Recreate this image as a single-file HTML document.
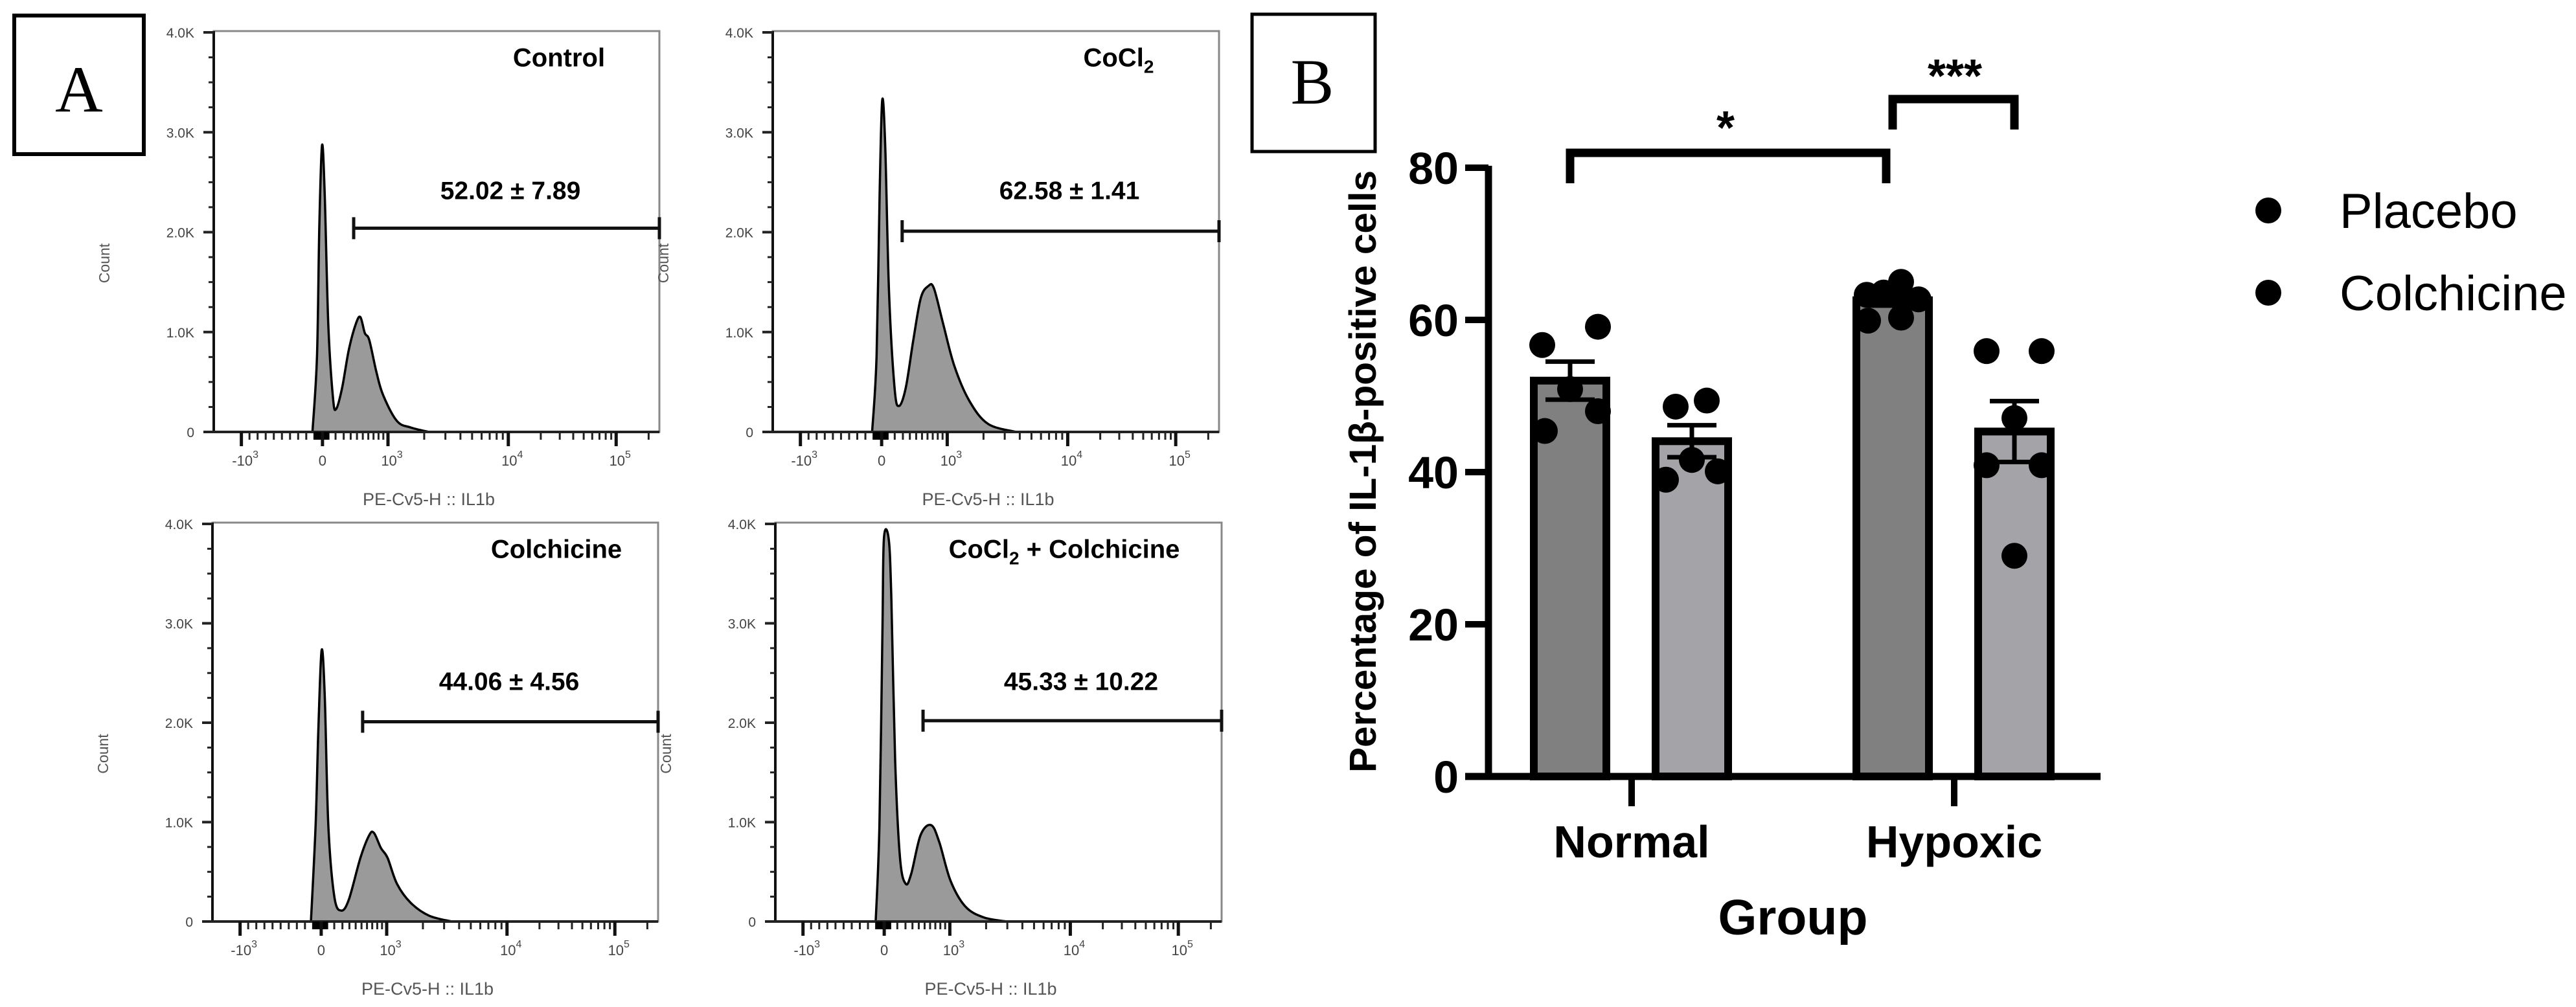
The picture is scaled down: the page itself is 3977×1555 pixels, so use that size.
<!DOCTYPE html>
<html><head><meta charset="utf-8"><style>
html,body{margin:0;padding:0;background:#fff;}
svg{display:block;}
text{font-family:"Liberation Sans",Arial,sans-serif;}
</style></head><body>
<svg id="fig" width="3977" height="1555" viewBox="0 0 3977 1555" xmlns="http://www.w3.org/2000/svg">
<rect x="0" y="0" width="3977" height="1555" fill="#fff"/>
<g>
<rect x="22" y="24" width="200" height="214" fill="none" stroke="#000" stroke-width="6"/>
<text x="122" y="172" text-anchor="middle" style="font-family:'Liberation Serif',serif" font-size="102">A</text>
</g>
<g>
<rect x="1933" y="22" width="190" height="212" fill="none" stroke="#000" stroke-width="5"/>
<text x="2026" y="160" text-anchor="middle" style="font-family:'Liberation Serif',serif" font-size="100">B</text>
</g>
<g id="hists"></g>
<g id="bars"></g>
</svg>
<script>
// ===== Histogram data (x in display units 0-1000, counts in K) =====
const ctrlD = [221.5,231.7,236.9,243,249,257,267.6,274.7,288,303,318.7,329,339,349,365,380,411,441.6,482.6];
const ctrlC = [0,0.76,2.06,2.87,2.38,1.08,0.34,0.23,0.44,0.82,1.08,1.15,0.99,0.92,0.60,0.37,0.11,0.045,0];
const cocD = [222.7,232.7,239.5,245.3,252,260.5,273,283,298,315,331.7,348.5,361,382,407,440.7,482.7,545.6];
const cocC = [0,0.76,2.38,3.32,2.87,1.41,0.44,0.26,0.44,0.92,1.34,1.46,1.44,1.08,0.66,0.31,0.08,0];
const colD = [221,231.5,237.7,245,252,260,273.5,289,306,332,352,362.6,378,393,414,444.5,485.5,536.6];
const colC = [0,0.97,1.94,2.73,2.27,0.97,0.25,0.11,0.22,0.64,0.87,0.89,0.74,0.64,0.38,0.19,0.06,0];
const ccD = [224.9,233.3,240,243.3,254,260,268.5,279.4,292,304.5,325.5,349,367.3,392.6,426,468,518.5];
const ccC = [0,0.97,2.92,3.85,3.85,3.25,1.62,0.64,0.38,0.48,0.87,0.97,0.80,0.41,0.15,0.04,0];
const histTitles = ["Control","CoCl2","Colchicine","CoCl2 + Colchicine"];
const gateLabels = ["52.02 ± 7.89","62.58 ± 1.41","44.06 ± 4.56","45.33 ± 10.22"];
const gateStart = [314,290,337,331];
const gateLevel = [2.04,2.01,2.01,2.02];
const yTickLabels = ["0","1.0K","2.0K","3.0K","4.0K"];
const yTickVals = [0,1,2,3,4];
const xMajorVals = [62,244,391,661,903];
const xMajorExp = ["3","","3","4","5"];
const xMajorBase = ["-10","0","10","10","10"];

// ===== Bar chart data =====
const groups = ["Normal","Hypoxic"];
const seriesNames = ["Placebo","Colchicine"];
const barMeans = [52.02,44.06,62.58,45.33];
const barSems = [2.5,2.1,0.7,4.0];
const ptsNormPlacebo = [56.7,59.1,45.4,48.0,50.9];
const ptsNormColch = [48.6,49.4,39.0,40.1,41.6];
const ptsHypPlacebo = [63.3,63.6,65.0,62.7,59.9,60.3];
const ptsHypColch = [55.9,55.9,47.1,40.9,40.9,29.0];
const barTicks = [0,20,40,60,80];

const NS="http://www.w3.org/2000/svg";
function mk(tag,attrs,parent){const e=document.createElementNS(NS,tag);for(const k in attrs)e.setAttribute(k,attrs[k]);if(parent)parent.appendChild(e);return e;}

function smoothPath(pts){
  let d=`M${pts[0][0]},${pts[0][1]}`;
  for(let i=0;i<pts.length-1;i++){
    const p0=pts[Math.max(0,i-1)],p1=pts[i],p2=pts[i+1],p3=pts[Math.min(pts.length-1,i+2)];
    const c1=[p1[0]+(p2[0]-p0[0])/6,p1[1]+(p2[1]-p0[1])/6];
    const c2=[p2[0]-(p3[0]-p1[0])/6,p2[1]-(p3[1]-p1[1])/6];
    d+=` C${c1[0]},${c1[1]} ${c2[0]},${c2[1]} ${p2[0]},${p2[1]}`;
  }
  return d;
}

const hists=document.getElementById('hists');
const plots=[
  {L:330,R:1018,top4:50,zero:667,D:ctrlD,C:ctrlC,titleX:533},
  {L:1193,R:1882,top4:50,zero:667,D:cocD,C:cocC,titleX:534},
  {L:328,R:1016,top4:809,zero:1423,D:colD,C:colC,titleX:531},
  {L:1197,R:1886,top4:809,zero:1423,D:ccD,C:ccC,titleX:446}
];
plots.forEach((p,i)=>{
  const g=mk('g',{},hists);
  
  
  const W=p.R-p.L;
  const X=d=>p.L+d*W/1000;
  const Y=c=>p.zero-c*(p.zero-p.top4)/4;
  const fr=mk('rect',{x:p.L,y:p.top4-2,width:W,height:p.zero-p.top4+2,fill:'none',stroke:'#888','stroke-width':3},g);
  
  
  const pts=p.D.map((d,k)=>[X(d),Y(p.C[k])]);
  const hp=mk('path',{d:smoothPath(pts)+` L${pts[pts.length-1][0]},${p.zero} L${pts[0][0]},${p.zero} Z`,fill:'#9a9a9a',stroke:'#000','stroke-width':3.5,'stroke-linejoin':'round'},g);
  
  
  mk('line',{x1:p.L,y1:p.top4-2,x2:p.L,y2:p.zero,stroke:'#111','stroke-width':4},g);
  mk('line',{x1:p.L,y1:p.zero,x2:p.R,y2:p.zero,stroke:'#222','stroke-width':4},g);
  for(let q=0;q<=16;q++){
    const v=q/4, major=q%4===0;
    mk('line',{x1:p.L-(major?16:8),y1:Y(v),x2:p.L,y2:Y(v),stroke:'#222','stroke-width':major?4:3},g);
  }
  yTickVals.forEach((v,k)=>{
    const t=mk('text',{x:p.L-30,y:Y(v)+8,'text-anchor':'end','font-size':21,fill:'#444'},g);
    t.textContent=yTickLabels[k];
    
    
  });
  const xm=[];
  for(let k=1;k<10;k++)xm.push(62+(244-62)*(k/10));
  for(let k=1;k<10;k++)xm.push(244+(391-244)*Math.pow(k/10,0.7));
  for(let k=2;k<10;k++)xm.push(391+270*Math.log10(k));
  for(let k=2;k<10;k++)xm.push(661+242*Math.log10(k));
  xm.push(903+242*Math.log10(2));
  xm.forEach(d=>mk('line',{x1:X(d),y1:p.zero,x2:X(d),y2:p.zero+12,stroke:'#222','stroke-width':3},g));
  [228,234,240,250,256].forEach(d=>mk('line',{x1:X(d),y1:p.zero,x2:X(d),y2:p.zero+12,stroke:'#000','stroke-width':5},g));
  xMajorVals.forEach((d,k)=>{
    mk('line',{x1:X(d),y1:p.zero,x2:X(d),y2:p.zero+22,stroke:'#111','stroke-width':5},g);
    const t=mk('text',{x:X(d)+(xMajorExp[k]?6:0),y:p.zero+52,'text-anchor':'middle','font-size':22,fill:'#444'},g);
    
    
    t.appendChild(document.createTextNode(xMajorBase[k]));
    if(xMajorExp[k]){const s=mk('tspan',{dy:-12,'font-size':16},t);s.textContent=xMajorExp[k];}
  });
  const xl=mk('text',{x:(p.L+p.R)/2-12,y:p.zero+113,'text-anchor':'middle','font-size':27,fill:'#555'},g);
  xl.textContent='PE-Cv5-H :: IL1b';
  
  
  const cy=(p.top4+p.zero)/2+48;
  const yl=mk('text',{x:p.L-161,y:cy,'text-anchor':'middle','font-size':23,fill:'#555',transform:`rotate(-90 ${p.L-161} ${cy})`},g);
  yl.textContent='Count';
  
  
  const tt=mk('text',{x:p.L+p.titleX,y:Y(3.75)+14,'text-anchor':'middle','font-size':40,'font-weight':'bold',fill:'#000'},g);
  
  
  const parts=histTitles[i].split('CoCl2');
  parts.forEach((s,k)=>{
    if(k>0){tt.appendChild(document.createTextNode('CoCl'));const sb=mk('tspan',{dy:10,'font-size':28},tt);sb.textContent='2';const rs=mk('tspan',{dy:-10},tt);rs.textContent=s;}
    else if(s) tt.appendChild(document.createTextNode(s));
  });
  const gy=Y(gateLevel[i]);
  const gl=mk('path',{d:`M${X(gateStart[i])},${gy} L${p.R},${gy} M${X(gateStart[i])},${gy-17} L${X(gateStart[i])},${gy+17} M${p.R},${gy-17} L${p.R},${gy+17}`,stroke:'#111','stroke-width':5,fill:'none'},g);
  
  
  const glab=mk('text',{x:p.L+458+(i===3?14:0),y:Y(2.42)+14,'text-anchor':'middle','font-size':39,'font-weight':'bold',fill:'#000'},g);
  glab.textContent=gateLabels[i];
  
  
});

// ===== Bar chart =====
const bars=document.getElementById('bars');
const Y0=1199, PX=11.75;
const BY=v=>Y0-v*PX;
const groupX=[2519,3017];
const BX=(gi,si)=>groupX[gi]+(si===0?-95:93);
const axisX=2298;
const fills=['#808080','#a3a3a8'];
barMeans.forEach((m,k)=>{
  const gi=Math.floor(k/2), si=k%2, cx=BX(gi,si);
  const r=mk('rect',{x:cx-56,y:BY(m),width:112,height:Y0-BY(m),fill:fills[si],stroke:'#000','stroke-width':12},bars);
  
  
});
barMeans.forEach((m,k)=>{
  const gi=Math.floor(k/2), si=k%2, cx=BX(gi,si), s=barSems[k];
  const e=mk('path',{d:`M${cx},${BY(m-s)} L${cx},${BY(m+s)} M${cx-38},${BY(m+s)} L${cx+38},${BY(m+s)} M${cx-38},${BY(m-s)} L${cx+38},${BY(m-s)}`,stroke:'#000','stroke-width':7,fill:'none'},bars);
  
  
});
const ptSets=[ptsNormPlacebo,ptsNormColch,ptsHypPlacebo,ptsHypColch];
const jit=[[-43,43,-39,43,0],[-25,23,-40,40,0],[-40,-14,13,40,-38,13],[-43,42,0,-43,42,0]];
ptSets.forEach((arr,k)=>{
  const gi=Math.floor(k/2), si=k%2, cx=BX(gi,si);
  arr.forEach((v,j)=>{
    const c=mk('circle',{cx:cx+jit[k][j],cy:BY(v),r:20,fill:'#000'},bars);
    
    
  });
});
const ya=mk('line',{x1:axisX,y1:BY(80)-3,x2:axisX,y2:Y0+5,stroke:'#000','stroke-width':11},bars);


const xa=mk('line',{x1:2262,y1:Y0,x2:3243,y2:Y0,stroke:'#000','stroke-width':11},bars);


barTicks.forEach(v=>{
  mk('line',{x1:2262,y1:BY(v),x2:axisX,y2:BY(v),stroke:'#000','stroke-width':10},bars);
  const t=mk('text',{x:2252,y:BY(v)+25,'text-anchor':'end','font-size':70,'font-weight':'bold'},bars);
  t.textContent=v;
  
  
});
groups.forEach((g,gi)=>{
  mk('line',{x1:groupX[gi],y1:Y0,x2:groupX[gi],y2:Y0+46,stroke:'#000','stroke-width':10},bars);
  const t=mk('text',{x:groupX[gi],y:1324,'text-anchor':'middle','font-size':70,'font-weight':'bold'},bars);
  t.textContent=g;
  
  
});
const xt=mk('text',{x:2768,y:1443,'text-anchor':'middle','font-size':77,'font-weight':'bold'},bars);
xt.textContent='Group';


const yt=mk('text',{x:2124,y:728,'text-anchor':'middle','font-size':58,'font-weight':'bold',textLength:930,lengthAdjust:'spacingAndGlyphs',transform:'rotate(-90 2124 728)'},bars);
yt.textContent='Percentage of IL-1β-positive cells';


const s1=mk('path',{d:`M${BX(0,0)},283 L${BX(0,0)},236 L${BX(1,0)-10},236 L${BX(1,0)-10},283`,stroke:'#000','stroke-width':13,fill:'none'},bars);


const st1=mk('text',{x:2664,y:222,'text-anchor':'middle','font-size':72,'font-weight':'bold'},bars);
st1.textContent='*';


const s2=mk('path',{d:`M${BX(1,0)},200 L${BX(1,0)},153 L${BX(1,1)},153 L${BX(1,1)},200`,stroke:'#000','stroke-width':13,fill:'none'},bars);


const st2=mk('text',{x:3018,y:142,'text-anchor':'middle','font-size':72,'font-weight':'bold'},bars);
st2.textContent='***';


seriesNames.forEach((n,k)=>{
  const yy=325+k*127;
  const c=mk('circle',{cx:3502,cy:yy,r:20,fill:'#000'},bars);
  
  
  const t=mk('text',{x:3612,y:yy+27,'font-size':76},bars);
  t.textContent=n;
  
  
});
</script>
</body></html>
